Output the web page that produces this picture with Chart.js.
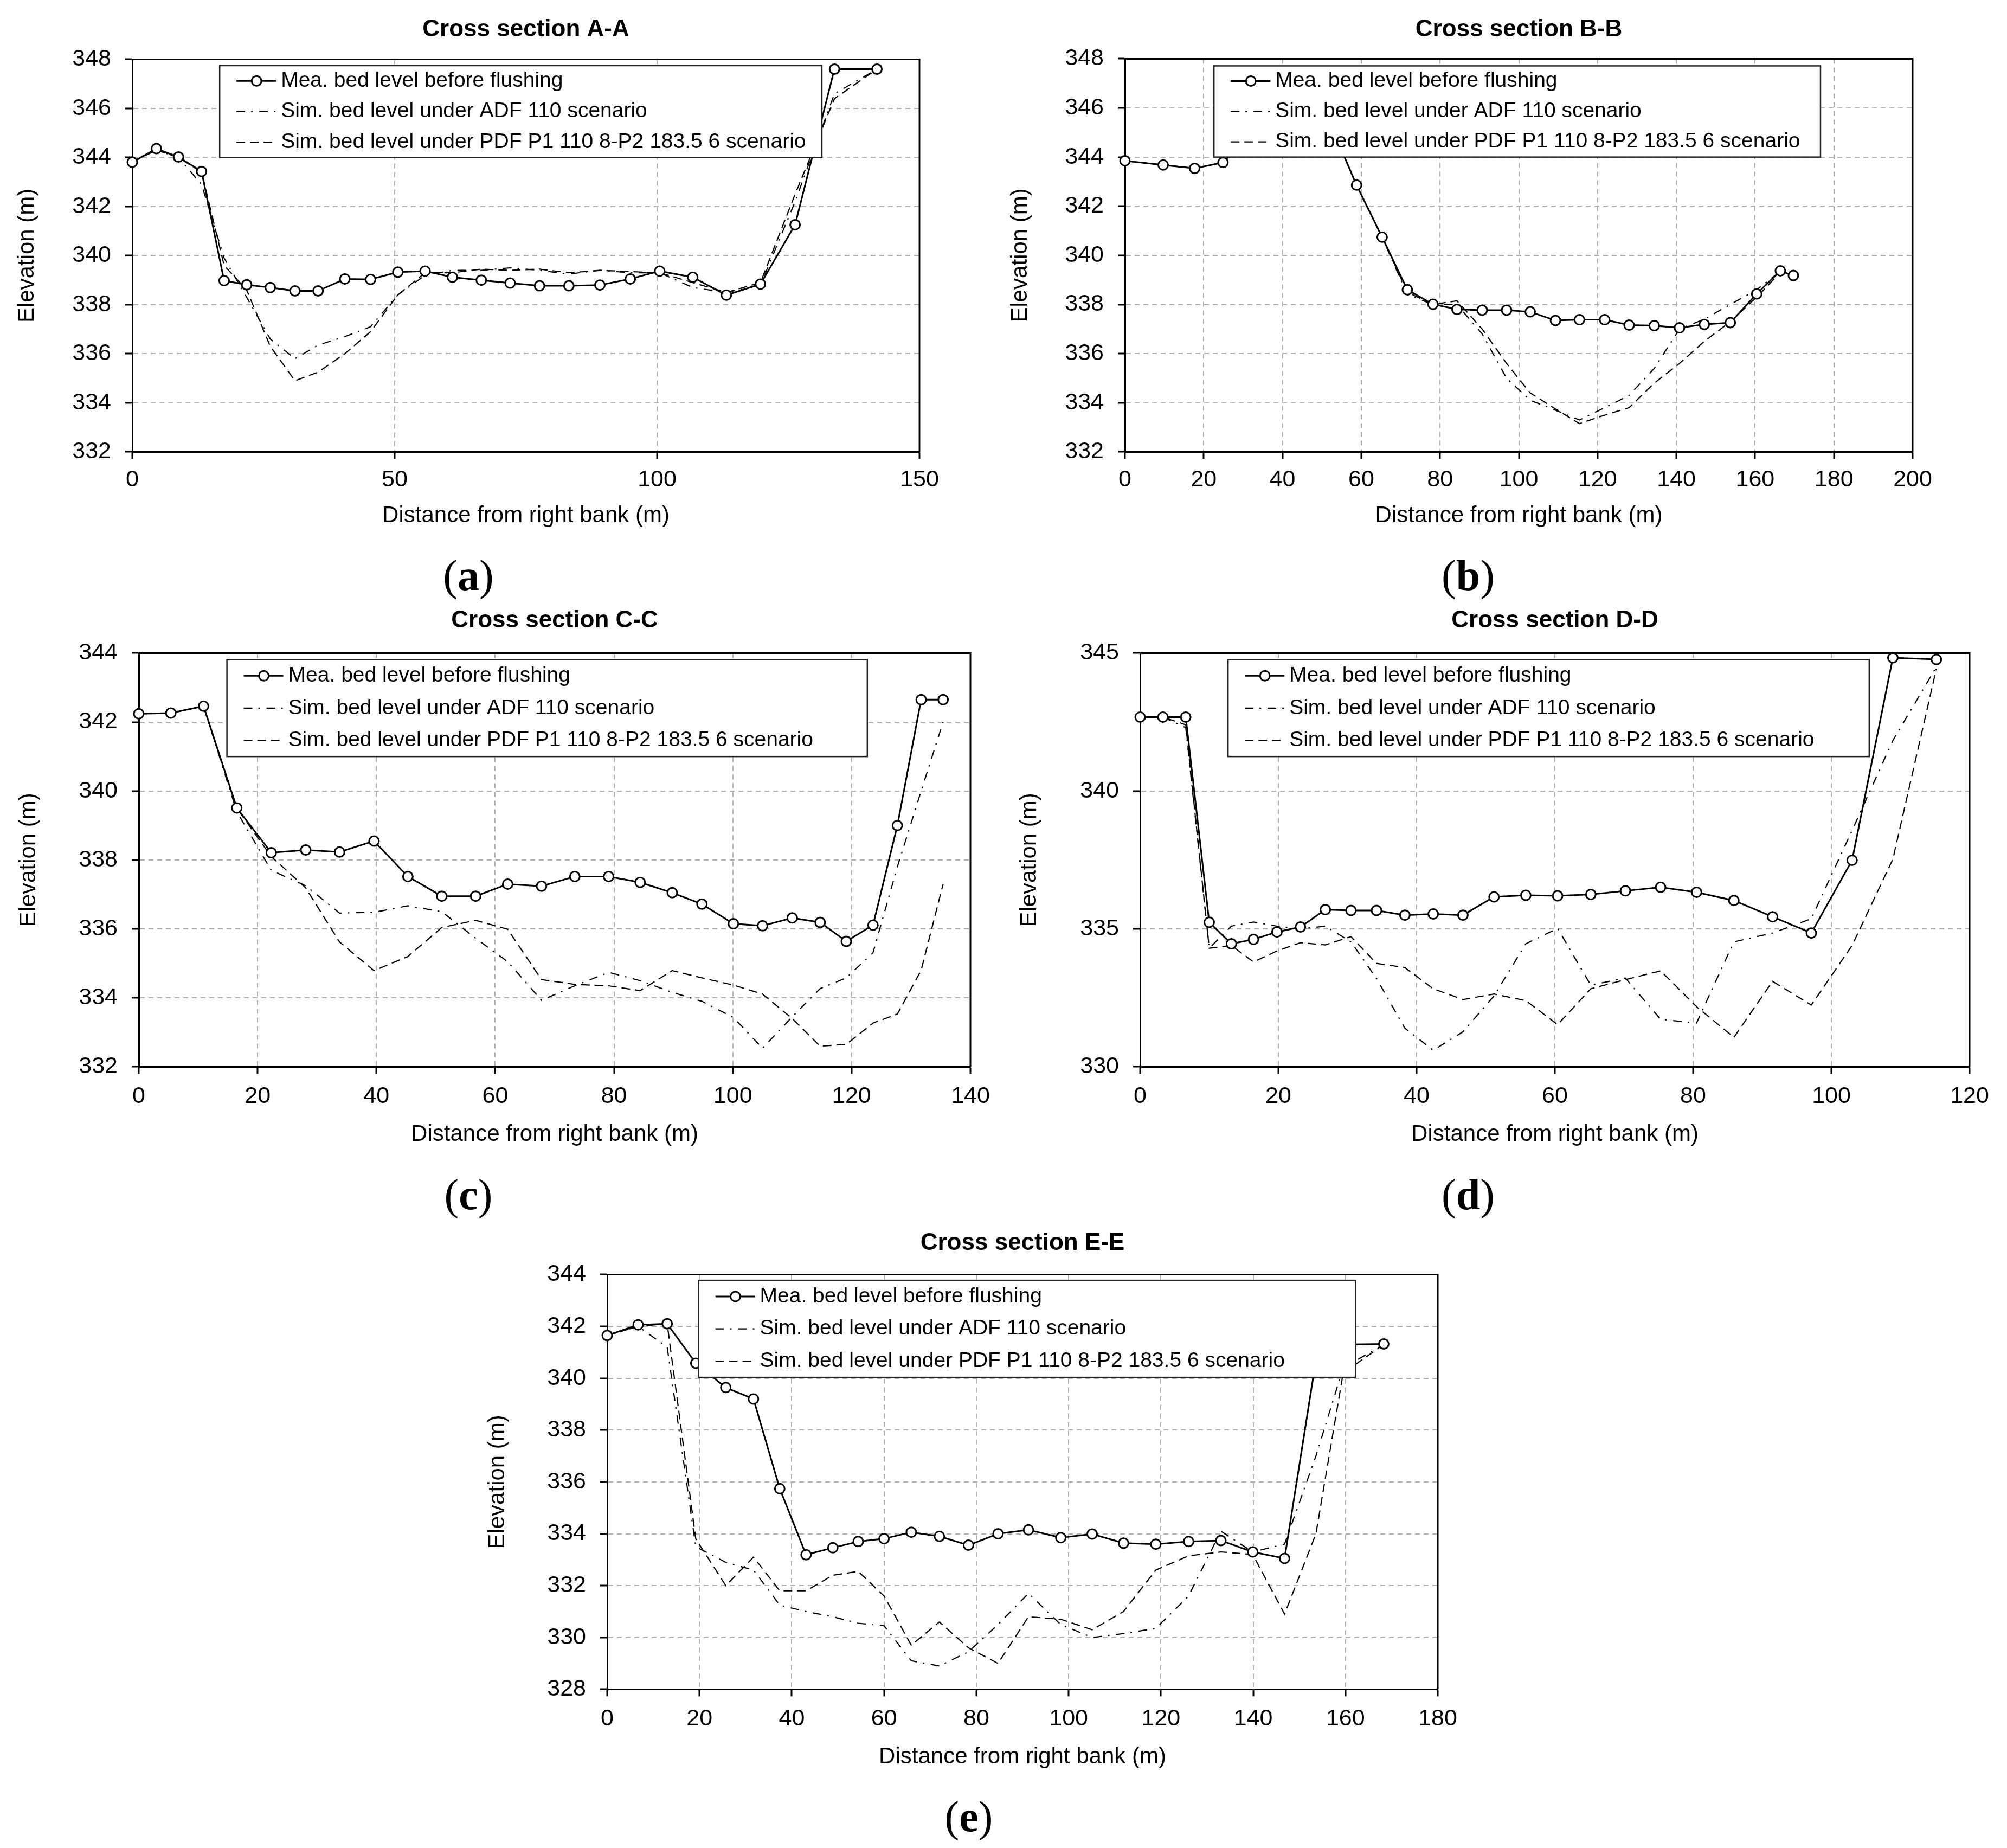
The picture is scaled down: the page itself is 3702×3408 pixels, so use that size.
<!DOCTYPE html>
<html>
<head>
<meta charset="utf-8">
<title>Cross sections</title>
<script src="https://cdn.jsdelivr.net/npm/chart.js@4.4.1/dist/chart.umd.min.js"></script>
<style>
  html, body { margin: 0; padding: 0; background: #fff; }
  #page { position: relative; width: 3702px; height: 3408px; background: #fff; overflow: hidden; }
  .panel { position: absolute; }
  .tag {
    position: absolute;
    font-family: "Liberation Serif", "DejaVu Serif", serif;
    font-size: 80px;
    line-height: 1;
    transform: translate(-50%, -50%);
    white-space: nowrap;
  }
</style>
</head>
<body>
<div id="page"></div>
<script>
// ---- data ----
const legendLabels = [
  "Mea. bed level before flushing",
  "Sim. bed level under ADF 110 scenario",
  "Sim. bed level under PDF P1 110 8-P2 183.5 6 scenario"
];

// A-A
const aDist     = [0, 4.6, 8.8, 13.2, 17.5, 21.8, 26.3, 31.0, 35.4, 40.5, 45.4, 50.6, 55.8, 61.0, 66.5, 72.0, 77.6, 83.2, 89.1, 94.9, 100.5, 106.8, 113.2, 119.7, 126.3, 133.8, 141.9];
const aMeasured = [343.81, 344.36, 344.02, 343.43, 338.98, 338.81, 338.70, 338.56, 338.56, 339.05, 339.03, 339.33, 339.37, 339.12, 339.00, 338.88, 338.77, 338.77, 338.80, 339.05, 339.37, 339.12, 338.39, 338.84, 341.26, 347.60, 347.60];
const aAdf      = [343.81, 344.30, 344.00, 342.90, 339.90, 338.30, 336.60, 335.80, 336.35, 336.70, 337.10, 338.40, 339.20, 339.40, 339.40, 339.50, 339.40, 339.25, 339.40, 339.30, 339.30, 338.70, 338.50, 338.80, 342.20, 346.60, 347.60];
const aPdf      = [343.81, 344.30, 344.00, 343.40, 339.60, 338.60, 336.30, 334.90, 335.25, 336.00, 336.90, 338.40, 339.30, 339.30, 339.45, 339.40, 339.45, 339.30, 339.40, 339.35, 339.30, 338.90, 338.50, 338.90, 342.50, 346.40, 347.60];
const aXRange = [0, 150, 50];
const aYRange = [332, 348, 2];

// B-B
const bDist     = [0, 9.7, 17.7, 24.9, 31.0, 38.0, 45.0, 52.0, 58.8, 65.3, 71.7, 78.2, 84.3, 90.7, 96.9, 102.9, 109.3, 115.4, 121.8, 128.0, 134.4, 140.8, 147.1, 153.7, 160.4, 166.4, 169.7];
const bMeasured = [343.85, 343.68, 343.54, 343.78, 344.80, 345.60, 346.00, 345.40, 342.86, 340.74, 338.60, 338.01, 337.80, 337.77, 337.77, 337.70, 337.35, 337.38, 337.38, 337.16, 337.14, 337.05, 337.19, 337.26, 338.43, 339.37, 339.18];
const bAdf      = [343.85, 343.68, 343.54, 343.78, 344.80, 345.60, 346.00, 345.40, 342.86, 340.74, 338.40, 338.00, 338.00, 336.80, 335.00, 334.10, 333.70, 333.30, 333.80, 334.30, 335.40, 337.00, 337.40, 338.00, 338.60, 339.35, 339.18];
const bPdf      = [343.85, 343.68, 343.54, 343.78, 344.80, 345.60, 346.00, 345.40, 342.86, 340.74, 338.50, 338.00, 338.15, 337.00, 335.60, 334.40, 333.75, 333.15, 333.50, 333.80, 334.80, 335.60, 336.50, 337.30, 338.30, 339.30, 339.18];
const bXRange = [0, 200, 20];
const bYRange = [332, 348, 2];

// C-C
const cDist     = [0, 5.4, 10.9, 16.5, 22.3, 28.1, 33.8, 39.6, 45.3, 51.0, 56.7, 62.1, 67.8, 73.4, 79.1, 84.4, 89.8, 94.8, 100.1, 105.0, 110.0, 114.7, 119.1, 123.6, 127.7, 131.7, 135.4];
const cMeasured = [342.24, 342.26, 342.46, 339.51, 338.21, 338.29, 338.23, 338.55, 337.52, 336.95, 336.95, 337.30, 337.24, 337.52, 337.52, 337.35, 337.05, 336.72, 336.15, 336.09, 336.32, 336.19, 335.64, 336.11, 339.00, 342.65, 342.65];
const cAdf      = [342.24, 342.26, 342.46, 339.40, 337.70, 337.25, 336.46, 336.48, 336.67, 336.50, 335.73, 335.05, 333.93, 334.35, 334.74, 334.50, 334.16, 333.90, 333.43, 332.54, 333.45, 334.27, 334.58, 335.31, 337.80, 340.00, 342.00];
const cPdf      = [342.24, 342.26, 342.46, 339.50, 338.10, 337.19, 335.62, 334.79, 335.20, 336.04, 336.25, 335.99, 334.53, 334.39, 334.35, 334.21, 334.79, 334.58, 334.37, 334.11, 333.40, 332.60, 332.65, 333.27, 333.53, 334.80, 337.30];
const cXRange = [0, 140, 20];
const cYRange = [332, 344, 2];

// D-D
const dDist     = [0, 3.3, 6.6, 10.0, 13.2, 16.4, 19.8, 23.2, 26.8, 30.5, 34.2, 38.3, 42.4, 46.7, 51.2, 55.8, 60.4, 65.2, 70.2, 75.3, 80.5, 85.9, 91.5, 97.1, 103.0, 108.9, 115.2];
const dMeasured = [342.68, 342.68, 342.68, 335.24, 334.46, 334.62, 334.89, 335.07, 335.70, 335.67, 335.67, 335.50, 335.54, 335.50, 336.16, 336.22, 336.20, 336.25, 336.38, 336.51, 336.33, 336.03, 335.44, 334.85, 337.49, 344.83, 344.77];
const dAdf      = [342.68, 342.68, 342.30, 334.30, 335.10, 335.25, 335.10, 335.00, 335.10, 334.53, 333.20, 331.40, 330.60, 331.27, 332.57, 334.46, 335.02, 332.96, 333.22, 331.72, 331.59, 334.53, 334.85, 335.37, 338.57, 341.83, 344.50];
const dPdf      = [342.68, 342.68, 342.40, 334.30, 334.40, 333.80, 334.20, 334.50, 334.42, 334.72, 333.75, 333.60, 332.83, 332.44, 332.64, 332.40, 331.53, 332.83, 333.16, 333.48, 332.18, 331.07, 333.10, 332.24, 334.40, 337.53, 344.44];
const dXRange = [0, 120, 20];
const dYRange = [330, 345, 5];

// E-E
const eDist     = [0, 6.7, 13.0, 19.2, 25.7, 31.7, 37.4, 43.1, 48.9, 54.4, 60.0, 65.9, 72.0, 78.3, 84.7, 91.3, 98.3, 105.1, 111.9, 118.9, 126.0, 133.0, 139.9, 146.8, 153.6, 159.5, 168.3];
const eMeasured = [341.65, 342.06, 342.10, 340.58, 339.64, 339.20, 335.74, 333.19, 333.46, 333.70, 333.81, 334.06, 333.90, 333.56, 334.00, 334.15, 333.85, 333.99, 333.64, 333.60, 333.70, 333.74, 333.30, 333.05, 340.70, 341.30, 341.32];
const eAdf      = [341.65, 342.00, 341.20, 333.50, 332.90, 332.60, 331.25, 331.00, 330.80, 330.55, 330.45, 329.10, 328.90, 329.45, 330.50, 331.70, 330.50, 330.00, 330.15, 330.35, 331.60, 334.10, 333.30, 333.60, 337.00, 340.40, 341.30];
const ePdf      = [341.65, 342.00, 342.10, 333.80, 332.00, 333.10, 331.80, 331.80, 332.40, 332.55, 331.60, 329.70, 330.60, 329.60, 329.00, 330.80, 330.70, 330.30, 331.00, 332.60, 333.15, 333.30, 333.20, 330.90, 334.00, 340.20, 341.30];
const eXRange = [0, 180, 20];
const eYRange = [328, 344, 2];

// ---- layout ----
const SANS = "'Liberation Sans', Arial, sans-serif";
Chart.defaults.font.family = SANS;
Chart.defaults.color = '#000';

const panels = [
  { tag: 'a', title: 'Cross section A-A', dist: aDist, mea: aMeasured, adf: aAdf, pdf: aPdf, xr: aXRange, yr: aYRange,
    plot: [244, 109, 1696, 833], yW: 219, xH: 143, gap: 55, tickPad: 13, legend: [0.111, 0.876, 0.016, 0.25], tagAt: [864, 1061] },
  { tag: 'b', title: 'Cross section B-B', dist: bDist, mea: bMeasured, adf: bAdf, pdf: bPdf, xr: bXRange, yr: bYRange,
    plot: [2075, 108, 3528, 833], yW: 218, xH: 143, gap: 54, tickPad: 13, legend: [0.113, 0.883, 0.018, 0.25], tagAt: [2708, 1061] },
  { tag: 'c', title: 'Cross section C-C', dist: cDist, mea: cMeasured, adf: cAdf, pdf: cPdf, xr: cXRange, yr: cYRange,
    plot: [256, 1204, 1790, 1967], yW: 228, xH: 150, gap: 60, tickPad: 16, legend: [0.106, 0.876, 0.016, 0.25], tagAt: [864, 2203] },
  { tag: 'd', title: 'Cross section D-D', dist: dDist, mea: dMeasured, adf: dAdf, pdf: dPdf, xr: dXRange, yr: dYRange,
    plot: [2103, 1204, 3633, 1967], yW: 229, xH: 150, gap: 60, tickPad: 16, legend: [0.106, 0.879, 0.016, 0.25], tagAt: [2708, 2203] },
  { tag: 'e', title: 'Cross section E-E', dist: eDist, mea: eMeasured, adf: eAdf, pdf: ePdf, xr: eXRange, yr: eYRange,
    plot: [1120, 2350, 2652, 3115], yW: 227, xH: 150, gap: 58, tickPad: 16, legend: [0.110, 0.901, 0.014, 0.248], tagAt: [1787, 3350] }
];

const DASHDOT = [16, 11, 3, 12];
const DASHED = [16, 9];

// white legend box drawn over the plot, plus top/right edges of the frame
const boxPlugin = {
  id: 'legendBox',
  afterDatasetsDraw(chart, args, opts) {
    const { ctx, chartArea: ca } = chart;
    const w = ca.right - ca.left, h = ca.bottom - ca.top;
    const x0 = ca.left + opts.box[0] * w, x1 = ca.left + opts.box[1] * w;
    const y0 = ca.top + opts.box[2] * h, y1 = ca.top + opts.box[3] * h;
    ctx.save();
    ctx.fillStyle = '#fff';
    ctx.fillRect(x0, y0, x1 - x0, y1 - y0);
    ctx.strokeStyle = '#222';
    ctx.lineWidth = 2.5;
    ctx.strokeRect(x0, y0, x1 - x0, y1 - y0);

    const rows = [1 / 6, 1 / 2, 5 / 6];
    chart.data.datasets.forEach((ds, i) => {
      const y = y0 + rows[i] * (y1 - y0);
      ctx.beginPath();
      ctx.setLineDash(ds.borderDash || []);
      ctx.lineWidth = ds.borderWidth;
      ctx.strokeStyle = '#000';
      ctx.moveTo(x0 + 31, y);
      ctx.lineTo(x0 + 104, y);
      ctx.stroke();
      ctx.setLineDash([]);
      if (ds.pointRadius) {
        ctx.beginPath();
        ctx.arc(x0 + 68, y, ds.pointRadius, 0, Math.PI * 2);
        ctx.fillStyle = '#fff';
        ctx.fill();
        ctx.lineWidth = ds.pointBorderWidth;
        ctx.stroke();
      }
      ctx.fillStyle = '#000';
      ctx.font = '39px ' + SANS;
      ctx.textAlign = 'left';
      ctx.textBaseline = 'middle';
      ctx.fillText(ds.label, x0 + 113, y);
    });

    ctx.setLineDash([]);
    ctx.strokeStyle = '#000';
    ctx.lineWidth = 3;
    ctx.beginPath();
    ctx.moveTo(ca.left, ca.top);
    ctx.lineTo(ca.right, ca.top);
    ctx.lineTo(ca.right, ca.bottom);
    ctx.stroke();
    ctx.restore();
  }
};

const page = document.getElementById('page');

function pts(dist, vals) {
  return dist.map((x, i) => ({ x: x, y: vals[i] }));
}

panels.forEach(p => {
  const [pl, pt, pr, pb] = p.plot;
  const titlePadBottom = p.gap - 26.4;
  const left = pl - p.yW;
  const top = pt - 52.8 - titlePadBottom;
  const width = pr - left + 60;
  const height = pb + p.xH - top;

  const box = document.createElement('div');
  box.className = 'panel';
  box.style.left = left + 'px';
  box.style.top = top + 'px';
  box.style.width = width + 'px';
  box.style.height = height + 'px';
  const canvas = document.createElement('canvas');
  box.appendChild(canvas);
  page.appendChild(box);

  const tag = document.createElement('div');
  tag.className = 'tag';
  tag.style.left = p.tagAt[0] + 'px';
  tag.style.top = p.tagAt[1] + 'px';
  tag.innerHTML = '(<b>' + p.tag + '</b>)';
  page.appendChild(tag);

  const grid = { color: '#b0b0b0', lineWidth: 2, tickColor: '#000', tickWidth: 3, tickLength: 13 };

  new Chart(canvas, {
    type: 'line',
    data: {
      datasets: [
        {
          label: legendLabels[0],
          data: pts(p.dist, p.mea),
          borderColor: '#000',
          borderWidth: 3,
          pointRadius: 9,
          pointBackgroundColor: '#fff',
          pointBorderColor: '#000',
          pointBorderWidth: 3,
          tension: 0,
          clip: false
        },
        {
          label: legendLabels[1],
          data: pts(p.dist, p.adf),
          borderColor: '#000',
          borderWidth: 2.2,
          borderDash: DASHDOT,
          pointRadius: 0,
          tension: 0
        },
        {
          label: legendLabels[2],
          data: pts(p.dist, p.pdf),
          borderColor: '#000',
          borderWidth: 2.2,
          borderDash: DASHED,
          pointRadius: 0,
          tension: 0
        }
      ]
    },
    options: {
      responsive: true,
      maintainAspectRatio: false,
      animation: false,
      devicePixelRatio: 1,
      events: [],
      layout: { padding: { left: 0, right: 60, top: 0, bottom: 0 } },
      plugins: {
        legend: { display: false },
        tooltip: { enabled: false },
        title: {
          display: true,
          text: p.title,
          fullSize: false,
          color: '#000',
          font: { size: 44, weight: 'bold' },
          padding: { top: 0, bottom: titlePadBottom }
        },
        legendBox: { box: p.legend }
      },
      scales: {
        x: {
          type: 'linear',
          min: p.xr[0],
          max: p.xr[1],
          ticks: { stepSize: p.xr[2], font: { size: 43 }, color: '#000', padding: p.tickPad },
          grid: grid,
          border: { display: true, color: '#000', width: 3, dash: [9, 7] },
          title: { display: true, text: 'Distance from right bank (m)', font: { size: 42 }, color: '#000', padding: 0 },
          afterFit: s => { s.height = p.xH; }
        },
        y: {
          min: p.yr[0],
          max: p.yr[1],
          ticks: { stepSize: p.yr[2], font: { size: 43 }, color: '#000', padding: 26 },
          grid: grid,
          border: { display: true, color: '#000', width: 3, dash: [9, 7] },
          title: { display: true, text: 'Elevation (m)', font: { size: 42 }, color: '#000', padding: 0 },
          afterFit: s => { s.width = p.yW; }
        }
      }
    },
    plugins: [boxPlugin]
  });
});
</script>
</body>
</html>
